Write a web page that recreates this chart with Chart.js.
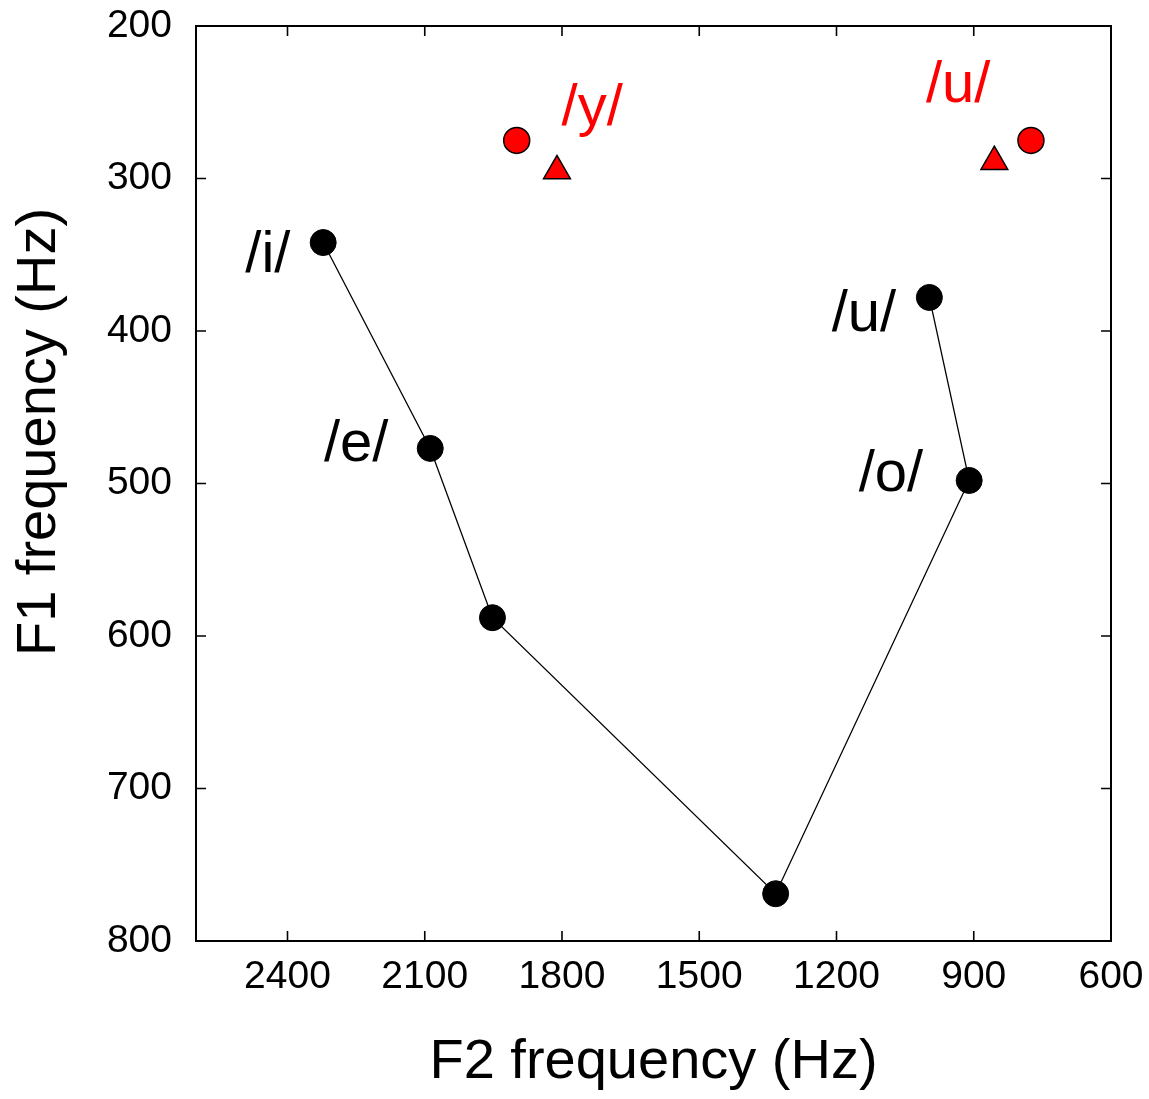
<!DOCTYPE html>
<html>
<head>
<meta charset="utf-8">
<script src="https://cdn.jsdelivr.net/npm/chart.js@4/dist/chart.umd.min.js"></script>
<style>
  body { margin: 0; background: #fff; }
  #wrap { width: 1149px; height: 1099px; }
</style>
</head>
<body>
<div id="wrap"><canvas id="chart" width="1149" height="1099"></canvas></div>
<script>
// vowel path (F2, F1) in Hz
var pathF2 = [2322, 2088, 1952, 1333, 910, 997];
var pathF1 = [342, 477, 588, 769, 498, 378];

// red markers
var circleF2 = [1899, 775];
var circleF1 = [275, 275];
var triangleF2 = [1811, 855];
var triangleF1 = [295, 289];

// vowel labels (anchor in Hz, centre / baseline)
var labelText = ["/i/", "/e/", "/u/", "/o/", "/y/", "/u/"];
var labelF2 = [2443, 2250, 1140, 1081, 1734, 934];
var labelF1 = [361, 485, 400, 505, 265, 250];
var labelColor = ["#000", "#000", "#000", "#000", "#ff0000", "#ff0000"];

// axis ticks
var xTicks = [2400, 2100, 1800, 1500, 1200, 900, 600];
var yTicks = [200, 300, 400, 500, 600, 700, 800];

var FONT = "'Liberation Sans', Arial, sans-serif";

function toPoints(xs, ys) {
  return xs.map(function (x, i) { return { x: x, y: ys[i] }; });
}

// frame, inward ticks, vowel labels and the y title
var decorPlugin = {
  id: "decor",
  afterDraw: function (chart) {
    var ctx = chart.ctx;
    var a = chart.chartArea;
    var xs = chart.scales.x, ys = chart.scales.y;
    ctx.save();
    ctx.strokeStyle = "#000";
    ctx.lineWidth = 1.6;
    ctx.beginPath();
    xs.ticks.forEach(function (t) {
      var px = xs.getPixelForValue(t.value);
      ctx.moveTo(px, a.bottom); ctx.lineTo(px, a.bottom - 10);
      ctx.moveTo(px, a.top); ctx.lineTo(px, a.top + 10);
    });
    ys.ticks.forEach(function (t) {
      var py = ys.getPixelForValue(t.value);
      ctx.moveTo(a.left, py); ctx.lineTo(a.left + 10, py);
      ctx.moveTo(a.right, py); ctx.lineTo(a.right - 10, py);
    });
    ctx.stroke();
    ctx.lineWidth = 2;
    ctx.strokeRect(a.left, a.top, a.right - a.left, a.bottom - a.top);

    ctx.font = "58px " + FONT;
    ctx.textAlign = "center";
    ctx.textBaseline = "alphabetic";
    labelText.forEach(function (txt, i) {
      ctx.fillStyle = labelColor[i];
      ctx.fillText(txt, xs.getPixelForValue(labelF2[i]), ys.getPixelForValue(labelF1[i]));
    });

    ctx.translate(40, 432);
    ctx.rotate(-Math.PI / 2);
    ctx.fillStyle = "#000";
    ctx.font = "56px " + FONT;
    ctx.textBaseline = "middle";
    ctx.fillText("F1 frequency (Hz)", 0, 0);
    ctx.restore();
  }
};

var ctx = document.getElementById("chart").getContext("2d");

new Chart(ctx, {
  type: "scatter",
  data: {
    datasets: [
      {
        data: toPoints(pathF2, pathF1),
        showLine: true,
        borderColor: "#000",
        borderWidth: 1.3,
        pointRadius: 13,
        pointBackgroundColor: "#000",
        pointBorderColor: "#000",
        pointBorderWidth: 1
      },
      {
        data: toPoints(circleF2, circleF1),
        pointStyle: "circle",
        pointRadius: 13,
        pointBackgroundColor: "#ff0000",
        pointBorderColor: "#000",
        pointBorderWidth: 1.5
      },
      {
        data: toPoints(triangleF2, triangleF1),
        pointStyle: "triangle",
        pointRadius: 15.5,
        pointBackgroundColor: "#ff0000",
        pointBorderColor: "#000",
        pointBorderWidth: 1.5
      }
    ]
  },
  options: {
    responsive: false,
    animation: false,
    layout: { padding: { top: 26, right: 38, left: 0, bottom: 0 } },
    plugins: {
      legend: { display: false },
      tooltip: { enabled: false }
    },
    scales: {
      x: {
        type: "linear",
        min: 600,
        max: 2600,
        reverse: true,
        grid: { display: false, drawTicks: false },
        border: { display: false },
        afterBuildTicks: function (s) { s.ticks = xTicks.map(function (v) { return { value: v }; }); },
        afterFit: function (s) { s.height = 158; s.paddingLeft = 0; s.paddingRight = 0; },
        ticks: {
          padding: 13,
          color: "#000",
          font: { family: FONT, size: 39 },
          maxRotation: 0,
          autoSkip: false,
          callback: function (v) { return String(v); }
        },
        title: {
          display: true,
          text: "F2 frequency (Hz)",
          color: "#000",
          font: { family: FONT, size: 56 },
          padding: { top: 0, bottom: 3 }
        }
      },
      y: {
        type: "linear",
        min: 200,
        max: 800,
        reverse: true,
        grid: { display: false, drawTicks: false },
        border: { display: false },
        afterBuildTicks: function (s) { s.ticks = yTicks.map(function (v) { return { value: v }; }); },
        afterFit: function (s) { s.width = 196; s.paddingTop = 0; s.paddingBottom = 0; },
        ticks: {
          padding: 24,
          color: "#000",
          font: { family: FONT, size: 39 },
          autoSkip: false,
          callback: function (v) { return String(v); }
        }
      }
    }
  },
  plugins: [decorPlugin]
});
</script>
</body>
</html>
